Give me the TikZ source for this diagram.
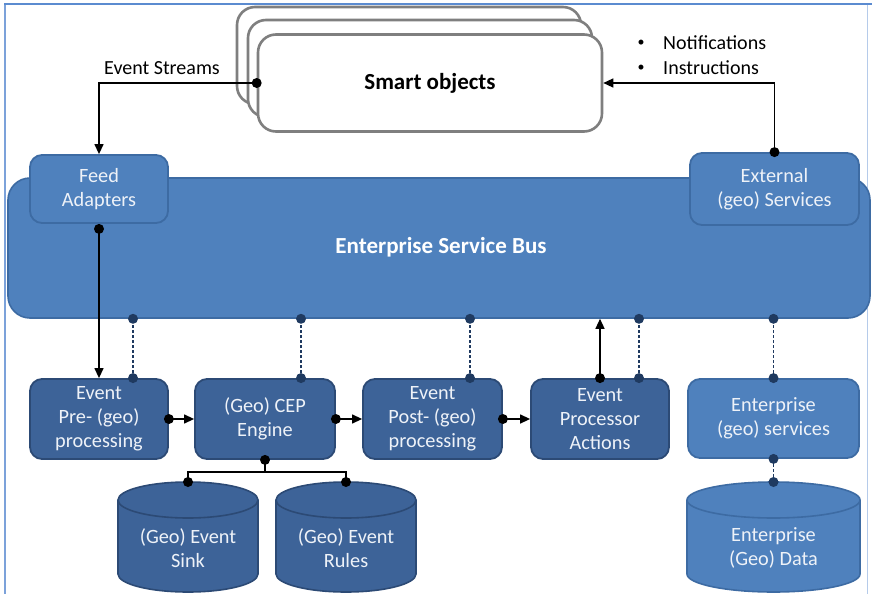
\documentclass[tikz,border=0pt]{standalone}
\usepackage{fontspec}
\setmainfont{Carlito}
\usetikzlibrary{arrows.meta}
\definecolor{esbblue}{HTML}{4F81BD}
\definecolor{esbborder}{HTML}{3D6BA3}
\definecolor{darkbox}{HTML}{3D6398}
\definecolor{darkborder}{HTML}{2C4A75}
\definecolor{navy}{HTML}{1F3A60}
\definecolor{sogray}{HTML}{7F7F7F}
\definecolor{boxtext}{HTML}{EEF2F8}
\definecolor{framecol}{HTML}{5B8BD0}
\newcommand\dbcyl[6]{%
  \filldraw[fill=#3, draw=#4, line width=1.6pt]
    ({#1-#2},500) -- ({#1-#2},574)
    arc[start angle=180,end angle=360,x radius=#2pt,y radius=18pt]
    -- ({#1+#2},500)
    arc[start angle=0,end angle=180,x radius=#2pt,y radius=18pt] -- cycle;
  \draw[draw=#4, line width=1.6pt] ({#1-#2},500)
    arc[start angle=180,end angle=360,x radius=#2pt,y radius=18pt];
  \coordinate (#5top) at (#1,482);
  \node[cyltext] (#5) at (#1,548) {#6};
}
\begin{document}
\begin{tikzpicture}[x=1pt,y=-1pt,
  sobox/.style={draw=sogray, line width=2.6pt, fill=white, rounded corners=18pt,
    minimum width=344pt, minimum height=97pt, inner sep=0pt},
  lightbox/.style={draw=esbborder, fill=esbblue, line width=1.8pt, rounded corners=12pt,
    text=boxtext, align=center, font=\fontsize{20.3}{24}\selectfont, inner sep=0pt},
  darkbx/.style={draw=darkborder, fill=darkbox, line width=1.8pt, rounded corners=12pt,
    text=boxtext, align=center, font=\fontsize{20.3}{24}\selectfont, inner sep=0pt,
    minimum height=80pt},
  cyltext/.style={text=boxtext, align=center, font=\fontsize{20.3}{24}\selectfont, inner sep=0pt},
  lbl/.style={font=\fontsize{20}{24}\selectfont, inner sep=0pt},
  conn/.style={line width=1.3pt, -{Triangle[length=10pt,width=9pt]}},
  plain/.style={line width=1.3pt},
  dl/.style={navy, line width=1.3pt, dash pattern=on 3pt off 2pt},
  bdot/.style={fill=black},
  ndot/.style={fill=navy}
]
\useasboundingbox (0,0) rectangle (872,594);
% frame
\draw[framecol!45, line width=0.8pt] (867,4) -- (867,594);
\draw[framecol!80, line width=1.2pt] (5,4) -- (5,594);
\draw[framecol, line width=2pt] (4,4) -- (872,4);

% smart objects stack
\node[sobox] (so3) at (409,55.5) {};
\node[sobox] (so2) at (420,68.5) {};
\node[sobox, font=\bfseries\fontsize{23}{27}\selectfont] (so) at (430,83) {Smart objects};

% labels
\node[lbl] (evs) at (162,68) {Event Streams};
\node[lbl, font=\fontsize{14}{16}\selectfont] (b1) at (641,43) {\textbullet};
\node[lbl, anchor=west] (notif) at (663,43) {Notifications};
\node[lbl, font=\fontsize{14}{16}\selectfont] (b2) at (641,68) {\textbullet};
\node[lbl, anchor=west] (instr) at (663,68) {Instructions};

% ESB
\node[draw=esbborder, fill=esbblue, line width=1.6pt, rounded corners=22pt,
  minimum width=862pt, minimum height=140pt, inner sep=0pt] (esb) at (439,248) {};
\node[text=white, font=\bfseries\fontsize{23}{27}\selectfont] (esbt) at (441,247) {Enterprise Service Bus};
\node[lightbox, minimum width=138pt, minimum height=68pt] (feed) at (99,189) {Feed\\Adapters};
\node[lightbox, minimum width=169pt, minimum height=72pt] (ext) at (774.5,189) {External\\(geo) Services};

% bottom row
\node[darkbx, minimum width=138pt] (pre) at (99,419) {Event\\Pre- (geo)\\processing};
\node[darkbx, minimum width=140pt] (cep) at (265,419) {(Geo) CEP\\Engine};
\node[darkbx, minimum width=139pt] (post) at (432.5,419) {Event\\Post- (geo)\\processing};
\node[darkbx, minimum width=138pt] (act) at (600,419) {Event\\Processor\\Actions};
\node[lightbox, minimum width=171pt, minimum height=79pt] (ents) at (773.5,418.5) {Enterprise\\(geo) services};

% cylinders
\dbcyl{188}{70}{darkbox}{darkborder}{sink}{(Geo) Event\\Sink}
\dbcyl{346}{70}{darkbox}{darkborder}{rules}{(Geo) Event\\Rules}
\dbcyl{773.5}{86.5}{esbblue}{esbborder}{edata}{Enterprise\\(Geo) Data}

% top connectors
\draw[conn] (so.west) -| (feed.north);
\fill[bdot] (so.west) circle (5pt);
\draw[conn] (ext.north) |- (so.east);
\fill[bdot] (ext.north) circle (5pt);

% feed -> pre
\coordinate (fd) at ([yshift=-5pt]feed.south);
\draw[conn] (fd) -- (pre.north);
\fill[bdot] (fd) circle (5pt);

% chain
\draw[conn] (pre.east) -- (cep.west);
\fill[bdot] (pre.east) circle (5pt);
\draw[conn] (cep.east) -- (post.west);
\fill[bdot] (cep.east) circle (5pt);
\draw[conn] (post.east) -- (act.west);
\fill[bdot] (post.east) circle (5pt);

% actions -> esb
\draw[conn] (act.north) -- (act.north |- esb.south);
\fill[bdot] (act.north) circle (5pt);

% cep -> stores
\draw[plain] (cep.south) -- ++(0,12) -| (sinktop);
\draw[plain] (cep.south) -- ++(0,12) -| (rulestop);
\fill[bdot] (cep.south) circle (5pt);
\fill[bdot] (sinktop) circle (5pt);
\fill[bdot] (rulestop) circle (5pt);

% dashed bus links
\coordinate (d1) at ([xshift=34pt]pre.north);
\coordinate (d2) at ([xshift=36pt]cep.north);
\coordinate (d3) at ([xshift=37.5pt]post.north);
\coordinate (d4) at ([xshift=39pt]act.north);
\coordinate (d5) at (ents.north);
\foreach \d in {d1,d2,d3,d4,d5}{
  \draw[dl] (\d) -- (\d |- esb.south);
  \fill[ndot] (\d) circle (5pt);
  \fill[ndot] (\d |- esb.south) circle (5pt);
}
\draw[dl] (ents.south) -- (edatatop);
\fill[ndot] (ents.south) circle (5pt);
\fill[ndot] (edatatop) circle (5pt);
\end{tikzpicture}
\end{document}
